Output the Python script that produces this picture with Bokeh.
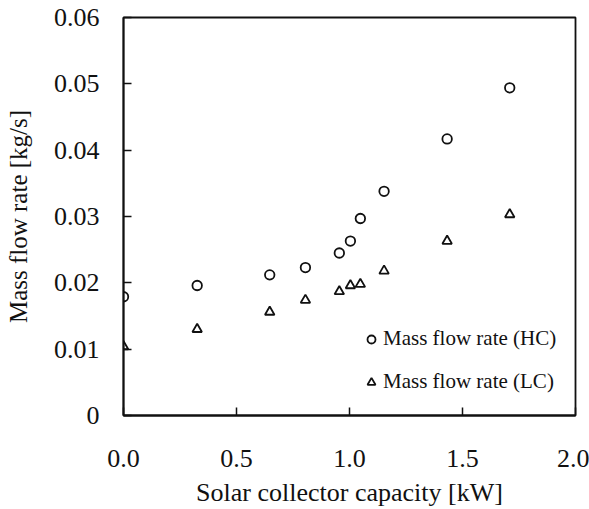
from bokeh.plotting import figure
from bokeh.models import FixedTicker, PrintfTickFormatter, Legend, LegendItem, Range1d
from bokeh.embed import file_html
from bokeh.resources import INLINE

# Data
capacity_kw = [0.0, 0.326, 0.647, 0.805, 0.955, 1.004, 1.048, 1.153, 1.432, 1.709]
hc_flow = [0.0179, 0.0196, 0.0212, 0.0223, 0.0245, 0.0263, 0.0297, 0.0338, 0.0417, 0.0494]
lc_flow = [0.0104, 0.0130, 0.0156, 0.0174, 0.0187, 0.0196, 0.0198, 0.0218, 0.0263, 0.0303]

x_ticks = [0.0, 0.5, 1.0, 1.5, 2.0]
y_ticks = [0.0, 0.01, 0.02, 0.03, 0.04, 0.05, 0.06]

x_title = "Solar collector capacity [kW]"
y_title = "Mass flow rate [kg/s]"
hc_label = "Mass flow rate (HC)"
lc_label = "Mass flow rate (LC)"

FONT = "Liberation Serif"
INK = "#111111"

p = figure(width=589, height=509, output_backend="svg", toolbar_location=None,
           x_range=Range1d(0, 2.0), y_range=Range1d(0, 0.06),
           min_border_left=123, min_border_right=14, min_border_top=17, min_border_bottom=93)

p.xgrid.visible = False
p.ygrid.visible = False
p.background_fill_color = "white"
p.border_fill_color = "white"
p.outline_line_color = INK
p.outline_line_width = 1.8

hc = p.scatter(capacity_kw, hc_flow, marker="circle", size=9.5, fill_color=None,
               line_color=INK, line_width=1.8)
lc = p.scatter(capacity_kw, lc_flow, marker="triangle", size=9.5, fill_color=None,
               line_color=INK, line_width=1.8)

for ax in (p.xaxis[0], p.yaxis[0]):
    ax.axis_line_color = INK
    ax.axis_line_width = 1.8
    ax.major_tick_line_color = INK
    ax.major_tick_line_width = 1.5
    ax.major_tick_in = 8
    ax.major_tick_out = 0
    ax.minor_tick_line_color = None
    ax.major_label_text_font = FONT
    ax.major_label_text_font_size = "26px"
    ax.major_label_text_color = INK
    ax.axis_label_text_font = FONT
    ax.axis_label_text_font_style = "normal"
    ax.axis_label_text_color = INK

p.xaxis.ticker = FixedTicker(ticks=x_ticks)
p.xaxis.formatter = PrintfTickFormatter(format="%.1f")
p.xaxis.major_label_standoff = 34
p.xaxis.axis_label = x_title
p.xaxis.axis_label_text_font_size = "26px"
p.xaxis.axis_label_standoff = 8

p.yaxis.ticker = FixedTicker(ticks=y_ticks)
p.yaxis.formatter = PrintfTickFormatter(format="%.2f")
p.yaxis.major_label_overrides = {0: "0"}
p.yaxis.major_label_standoff = 24
p.yaxis.axis_label = y_title
p.yaxis.axis_label_text_font_size = "25px"
p.yaxis.axis_label_standoff = 19

legend = Legend(items=[LegendItem(label=hc_label, renderers=[hc]),
                       LegendItem(label=lc_label, renderers=[lc])],
                location=(238, 21), orientation="vertical",
                glyph_width=20, glyph_height=20, label_height=20,
                label_standoff=2, spacing=18, padding=0, margin=0,
                border_line_color=None, background_fill_alpha=0,
                label_text_font=FONT, label_text_font_size="21px",
                label_text_color=INK)
p.add_layout(legend)

open("out.html", "w").write(file_html(p, INLINE))
